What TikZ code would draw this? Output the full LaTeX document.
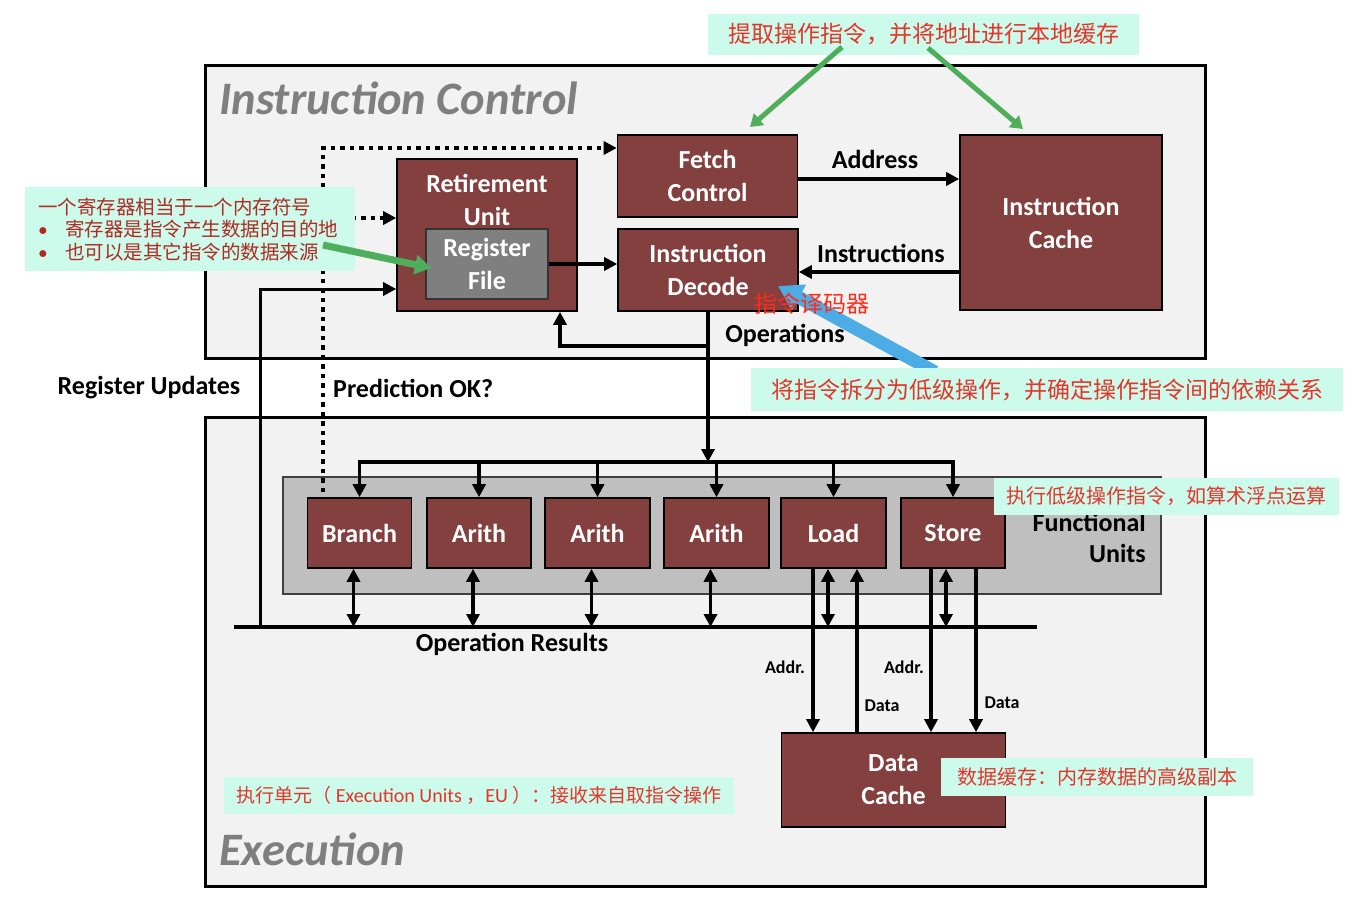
\documentclass[tikz,border=0pt]{standalone}
\usepackage{fontspec}
\setmainfont{Carlito}
\newfontfamily\cjk{Noto Sans CJK SC}
\newfontfamily\latinfont{Carlito}
\usetikzlibrary{arrows.meta}
\definecolor{unitbrown}{HTML}{843F3F}
\definecolor{panelgray}{HTML}{F2F2F2}
\definecolor{fugray}{HTML}{BFBFBF}
\definecolor{rfgray}{HTML}{7F7F7F}
\definecolor{titlegray}{HTML}{7F7F7F}
\definecolor{mint}{HTML}{CCFAEB}
\definecolor{cred}{HTML}{E5352A}
\definecolor{dred}{HTML}{B02A22}
\definecolor{bred}{HTML}{FF2A1A}
\definecolor{cgreen}{HTML}{4EAE5B}
\definecolor{cblue}{HTML}{4BACE6}
\begin{document}
\begin{tikzpicture}[x=1pt,y=-1pt,
 ubox/.style={draw=black, line width=1.6pt, fill=unitbrown, text=white, font=\bfseries\fontsize{26}{33}\selectfont, align=center, inner sep=0pt},
 lbl/.style={font=\bfseries\fontsize{26}{31}\selectfont, inner sep=0pt},
 smalllbl/.style={font=\bfseries\fontsize{18}{20}\selectfont, inner sep=0pt},
 conn/.style={line width=3.5pt, -{Triangle[length=13pt,width=13pt]}},
 dconn/.style={line width=3.5pt, {Triangle[length=13pt,width=13pt]}-{Triangle[length=13pt,width=13pt]}},
 dotline/.style={line width=4.5pt, dash pattern=on 4.5pt off 5pt},
 cnote/.style={fill=mint, inner sep=0pt},
 ctext/.style={text=cred, font=\cjk\fontsize{23}{28}\selectfont},
 garrow/.style={draw=cgreen, line width=5pt, -{Triangle[length=12pt,width=15pt]}},
 panel/.style={draw=black, line width=3pt, fill=panelgray, inner sep=0pt},
 ptitle/.style={font=\bfseries\itshape\fontsize{46.5}{52}\selectfont, text=titlegray, anchor=base west, inner sep=0pt},
]
\useasboundingbox (0,0) rectangle (1356,896);
\fill[white] (0,0) rectangle (1356,896);

% panels
\node[panel, minimum width=1000, minimum height=292] (icpanel) at (705,212) {};
\node[panel, minimum width=1000, minimum height=469] (expanel) at (705,651.5) {};
\node[ptitle] (ictitle) at (219,115) {Instruction Control};
\node[ptitle] (extitle) at (219,865) {Execution};

% functional units box
\node[draw=black!75, line width=1.6pt, fill=fugray, minimum width=878, minimum height=117, inner sep=0pt] (fubox) at (722,535.5) {};
\node[lbl, align=right, anchor=east] (futext) at (1146,537.5) {Functional\\Units};

% main blocks
\node[ubox, minimum width=180, minimum height=82] (fetch) at (707.5,176) {Fetch\\Control};
\node[ubox, minimum width=202, minimum height=175] (icache) at (1061,222.5) {Instruction\\Cache};
\node[ubox, minimum width=180, minimum height=152] (retire) at (487,235) {};
\node[text=white, font=\bfseries\fontsize{26}{33}\selectfont, align=center, inner sep=0pt] (retiretxt) at (487,199.5) {Retirement\\Unit};
\node[ubox, fill=rfgray, draw=black!80, minimum width=122, minimum height=70] (regfile) at (487,264) {Register\\File};
\node[ubox, minimum width=180, minimum height=82] (decode) at (708,270) {Instruction\\Decode};

\node[ubox, minimum width=104, minimum height=70] (branch) at (359.5,533) {Branch};
\node[ubox, minimum width=104, minimum height=70] (arith1) at (479,533) {Arith};
\node[ubox, minimum width=105, minimum height=70] (arith2) at (597.5,533) {Arith};
\node[ubox, minimum width=105, minimum height=70] (arith3) at (716.5,533) {Arith};
\node[ubox, minimum width=105, minimum height=70] (load) at (833.5,533) {Load};
\node[ubox, minimum width=104, minimum height=70] (store) at (953,533) {Store};
\node[ubox, minimum width=224, minimum height=94] (dcache) at (893.5,780) {Data\\Cache};

% helper coordinates
\coordinate (yaddr) at (0,179);
\coordinate (yinst) at (0,272);
\coordinate (dist) at (708,462);
\coordinate (ret) at (560,346);
\coordinate (busL) at (234,627);
\coordinate (busR) at (1037,627);
\coordinate (ruB) at (260,627);
\coordinate (ruT) at (260,289);
\coordinate (dB) at (323,492);
\coordinate (dT) at (323,148);
\coordinate (dM) at (323,218);
\coordinate (xLA) at (813,0);
\coordinate (xLB) at (828,0);
\coordinate (xLD) at (857,0);
\coordinate (xSA) at (931,0);
\coordinate (xSB) at (946,0);
\coordinate (xSD) at (976,0);

% connectors
\draw[conn] (fetch.east |- yaddr) -- (icache.west |- yaddr);
\draw[conn] (icache.west |- yinst) -- (decode.east |- yinst);
\draw[conn] (regfile.east) -- (regfile.east -| decode.west);
\draw[conn] (decode.south) -- (dist);
\draw[conn] (decode.south |- ret) -- (ret) -- (ret |- retire.south);
\draw[line width=3.5pt, line cap=rect] (branch.north |- dist) -- (store.north |- dist);
\foreach \u in {branch,arith1,arith2,arith3,load,store}
  \draw[conn] (\u.north |- dist) -- (\u.north);
\foreach \u in {branch,arith1,arith2,arith3}
  \draw[dconn] ([xshift=-6pt]\u.south) -- ([xshift=-6pt]\u.south |- busL);
\draw[dconn] (load.south -| xLB) -- (busL -| xLB);
\draw[dconn] (store.south -| xSB) -- (busL -| xSB);
\draw[conn] (load.south -| xLA) -- (dcache.north -| xLA);
\draw[conn] (dcache.north -| xLD) -- (load.south -| xLD);
\draw[conn] (store.south -| xSA) -- (dcache.north -| xSA);
\draw[conn] (store.south -| xSD) -- (dcache.north -| xSD);
\draw[line width=4pt] (busL) -- (busR);
\draw[line width=3pt, -{Triangle[length=13pt,width=13pt]}] (ruB) -- (ruT) -- (ruT -| retire.west);
\draw[dotline, -{Triangle[length=13pt,width=13pt]}] (dB) -- (dT) -- (dT -| fetch.west);
\draw[dotline, -{Triangle[length=13pt,width=13pt]}] (dM) -- (dM -| retire.west);

% labels
\node[lbl] (laddr) at (875,159) {Address};
\node[lbl] (linst) at (881,253) {Instructions};
\node[lbl] (lops) at (785,335) {Operations};
\node[lbl] (lru) at (149,388) {Register Updates};
\node[lbl, anchor=west] (lpred) at (333,388) {Prediction OK?};
\node[lbl] (lres) at (512,644) {Operation Results};
\node[smalllbl] (a1) at (785,667) {Addr.};
\node[smalllbl] (d1) at (882,706) {Data};
\node[smalllbl] (a2) at (904,667) {Addr.};
\node[smalllbl] (d2) at (1002,703) {Data};

% blue arrow
\coordinate (bS) at (935,372);
\coordinate (bE) at (778,286);
\draw[draw=cblue, line width=13pt, -{Triangle[length=24pt,width=28pt]}] (bS) -- (bE);

% callouts
\node[cnote, ctext, minimum width=431, minimum height=41] (c1) at (923.5,34.5) {提取操作指令，并将地址进行本地缓存};
\node[cnote, ctext, minimum width=592, minimum height=43] (c2) at (1047,389.5) {将指令拆分为低级操作，并确定操作指令间的依赖关系};
\node[cnote, ctext, font=\cjk\fontsize{20}{24}\selectfont, minimum width=345, minimum height=37] (c3) at (1166.5,496.5) {执行低级操作指令，如算术浮点运算};
\node[cnote, ctext, font=\cjk\fontsize{20}{24}\selectfont, minimum width=312, minimum height=38] (c4) at (1097,777) {数据缓存：内存数据的高级副本};
\node[cnote, ctext, font=\cjk\fontsize{19}{23}\selectfont, minimum width=510, minimum height=37] (c5) at (479,795.5) {执行单元（{\latinfont\fontsize{20}{23}\selectfont\ Execution Units }，{\latinfont\fontsize{20}{23}\selectfont EU }）：接收来自取指令操作};
\node[cnote, minimum width=330, minimum height=84] (c6) at (190,229) {};
\node[anchor=west, align=left, text=dred, font=\cjk\fontsize{19.5}{22.5}\selectfont, inner sep=0pt] (c6t) at (38,229.5) {一个寄存器相当于一个内存符号\\\makebox[27pt][l]{\latinfont •}寄存器是指令产生数据的目的地\\\makebox[27pt][l]{\latinfont •}也可以是其它指令的数据来源};

% green arrows
\coordinate (g1s) at (842,47);
\coordinate (g1e) at (750,127);
\coordinate (g2s) at (928,48);
\coordinate (g2e) at (1023,129);
\coordinate (g3s) at (323,245);
\coordinate (g3e) at (431,268);
\draw[garrow] (g1s) -- (g1e);
\draw[garrow] (g2s) -- (g2e);
\draw[garrow, line width=7pt, -{Triangle[length=16pt,width=19pt]}] (g3s) -- (g3e);

\node[text=bred, font=\cjk\fontsize{23}{28}\selectfont, inner sep=0pt] (decodecn) at (812,304) {指令译码器};
\end{tikzpicture}
\end{document}
